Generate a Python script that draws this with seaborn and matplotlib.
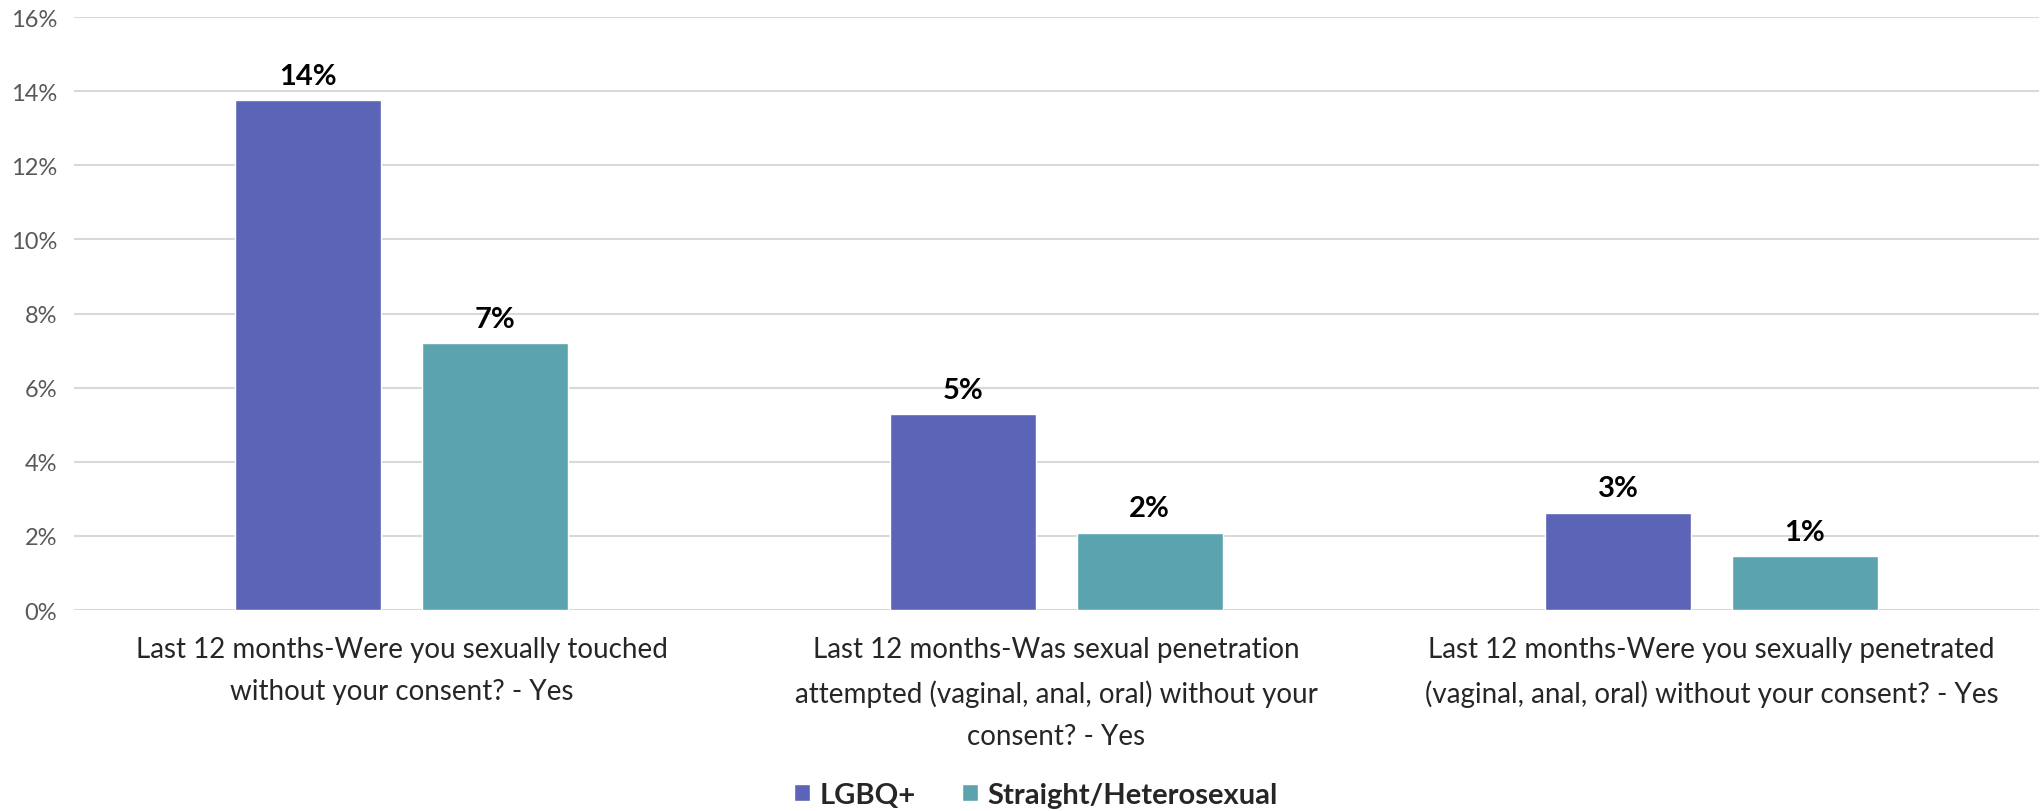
import matplotlib
matplotlib.use("Agg")
import matplotlib.pyplot as plt
import matplotlib.ticker as mticker
import seaborn as sns
import pandas as pd

categories = [
    "Last 12 months-Were you sexually touched\nwithout your consent? - Yes",
    "Last 12 months-Was sexual penetration\nattempted (vaginal, anal, oral) without your\nconsent? - Yes",
    "Last 12 months-Were you sexually penetrated\n(vaginal, anal, oral) without your consent? - Yes",
]
groups = ["LGBQ+", "Straight/Heterosexual"]
lgbq = [13.75, 5.29, 2.63]
straight = [7.21, 2.09, 1.46]
lgbq_labels = ["14%", "5%", "3%"]
straight_labels = ["7%", "2%", "1%"]
colors = ["#5B64B6", "#5BA3AF"]

df = pd.DataFrame({
    "category": categories * 2,
    "group": [groups[0]] * 3 + [groups[1]] * 3,
    "value": lgbq + straight,
})

sns.set_theme(style="white")
plt.rcParams["font.family"] = ["Lato", "DejaVu Sans"]

fig = plt.figure(figsize=(20.43, 8.12), dpi=100)
ax = fig.add_axes([0.0362, 0.2475, 0.9618, 0.7303])

sns.barplot(data=df, x="category", y="value", hue="group", palette=colors,
            width=0.57, gap=0.217, saturation=1, ax=ax, legend=True)

for cont, labs in zip(ax.containers, [lgbq_labels, straight_labels]):
    ax.bar_label(cont, labels=labs, padding=8, fontsize=21, fontweight="bold", color="black")

ax.set_ylim(0, 16)
ax.set_xlim(-0.5, 2.5)
ax.yaxis.set_major_locator(mticker.MultipleLocator(2))
ax.yaxis.set_major_formatter(mticker.FuncFormatter(lambda v, p: f"{v:.0f}%"))
ax.grid(axis="y", color="#D9D9D9", linewidth=1.5)
ax.set_axisbelow(True)
for s in ax.spines.values():
    s.set_visible(False)
ax.set_xlabel("")
ax.set_ylabel("")
ax.tick_params(axis="y", labelsize=17, labelcolor="#595959", length=0, pad=12)
ax.tick_params(axis="x", labelsize=20, labelcolor="#262626", length=0, pad=19)
for t in ax.get_xticklabels():
    t.set_linespacing(1.75)

handles, labels = ax.get_legend_handles_labels()
ax.legend_.remove()
fig.legend(handles, labels, loc="center", bbox_to_anchor=(0.507, 0.02), ncol=2,
           frameon=False, prop={"weight": "bold", "size": 21},
           handlelength=0.55, handleheight=0.55, handletextpad=0.3, columnspacing=1.6)

fig.savefig("out.png", dpi=100)
